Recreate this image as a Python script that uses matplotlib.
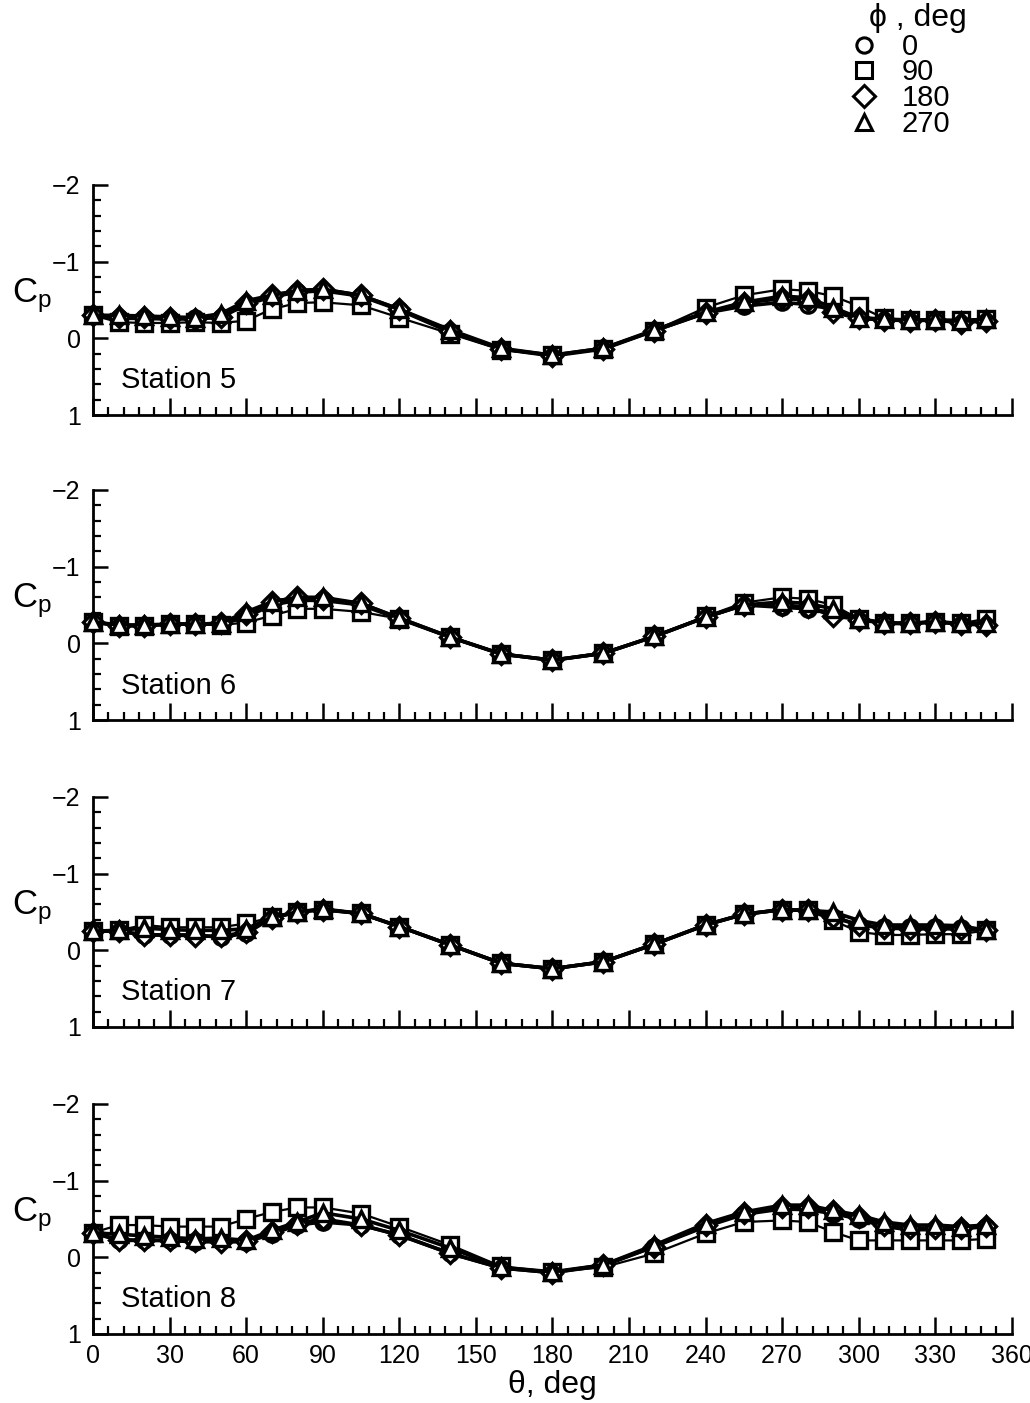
import matplotlib
matplotlib.use('Agg')
import matplotlib.pyplot as plt
from matplotlib.lines import Line2D
import numpy as np

plt.rcParams['font.family'] = ['Liberation Sans', 'DejaVu Sans']

# circumferential angle, deg
theta = [0, 10, 20, 30, 40, 50, 60, 70, 80, 90, 105, 120, 140, 160, 180,
         200, 220, 240, 255, 270, 280, 290, 300, 310, 320, 330, 340, 350]

phi_labels = ['0', '90', '180', '270']
stations = ['Station 5', 'Station 6', 'Station 7', 'Station 8']

# Station 5
st5_phi0 = [-0.30, -0.26, -0.26, -0.25, -0.26, -0.27, -0.44, -0.54, -0.60, -0.62, -0.55, -0.37, -0.08, 0.14, 0.22,
            0.13, -0.10, -0.33, -0.42, -0.47, -0.44, -0.38, -0.27, -0.24, -0.24, -0.23, -0.23, -0.24]
st5_phi90 = [-0.30, -0.21, -0.20, -0.20, -0.21, -0.20, -0.23, -0.38, -0.46, -0.47, -0.43, -0.27, -0.06, 0.15, 0.22,
             0.14, -0.10, -0.40, -0.56, -0.64, -0.62, -0.55, -0.42, -0.26, -0.24, -0.24, -0.24, -0.25]
st5_phi180 = [-0.30, -0.28, -0.28, -0.26, -0.25, -0.28, -0.46, -0.56, -0.62, -0.64, -0.56, -0.38, -0.09, 0.14, 0.23,
              0.14, -0.10, -0.33, -0.46, -0.52, -0.50, -0.34, -0.26, -0.24, -0.23, -0.24, -0.20, -0.23]
st5_phi270 = [-0.30, -0.30, -0.29, -0.28, -0.27, -0.32, -0.49, -0.56, -0.62, -0.64, -0.56, -0.38, -0.11, 0.13, 0.22,
              0.13, -0.11, -0.34, -0.47, -0.55, -0.53, -0.40, -0.27, -0.25, -0.24, -0.24, -0.23, -0.25]

# Station 6
st6_phi0 = [-0.28, -0.23, -0.23, -0.25, -0.25, -0.25, -0.34, -0.50, -0.56, -0.56, -0.50, -0.32, -0.08, 0.14, 0.22,
            0.13, -0.09, -0.34, -0.50, -0.47, -0.45, -0.40, -0.32, -0.26, -0.26, -0.28, -0.26, -0.26]
st6_phi90 = [-0.28, -0.23, -0.23, -0.25, -0.25, -0.24, -0.27, -0.36, -0.45, -0.45, -0.41, -0.32, -0.08, 0.14, 0.22,
             0.13, -0.09, -0.35, -0.53, -0.60, -0.58, -0.50, -0.32, -0.26, -0.26, -0.28, -0.26, -0.32]
st6_phi180 = [-0.28, -0.23, -0.23, -0.25, -0.25, -0.26, -0.38, -0.54, -0.60, -0.58, -0.52, -0.33, -0.08, 0.14, 0.22,
              0.13, -0.09, -0.34, -0.50, -0.50, -0.47, -0.36, -0.31, -0.26, -0.26, -0.28, -0.25, -0.24]
st6_phi270 = [-0.28, -0.24, -0.24, -0.25, -0.25, -0.26, -0.41, -0.54, -0.60, -0.60, -0.52, -0.33, -0.08, 0.14, 0.22,
              0.13, -0.09, -0.34, -0.50, -0.54, -0.52, -0.45, -0.32, -0.27, -0.26, -0.28, -0.26, -0.26]

# Station 7
st7_phi0 = [-0.25, -0.25, -0.20, -0.20, -0.20, -0.17, -0.22, -0.42, -0.50, -0.53, -0.48, -0.31, -0.07, 0.17, 0.24,
            0.15, -0.08, -0.33, -0.47, -0.53, -0.52, -0.43, -0.33, -0.30, -0.30, -0.30, -0.29, -0.26]
st7_phi90 = [-0.25, -0.26, -0.33, -0.30, -0.30, -0.30, -0.35, -0.43, -0.50, -0.53, -0.48, -0.31, -0.07, 0.17, 0.24,
             0.15, -0.08, -0.33, -0.47, -0.53, -0.52, -0.39, -0.24, -0.20, -0.20, -0.21, -0.21, -0.26]
st7_phi180 = [-0.25, -0.25, -0.20, -0.20, -0.19, -0.18, -0.24, -0.42, -0.50, -0.53, -0.48, -0.31, -0.07, 0.17, 0.24,
              0.15, -0.08, -0.33, -0.47, -0.53, -0.52, -0.44, -0.33, -0.29, -0.28, -0.28, -0.28, -0.26]
st7_phi270 = [-0.25, -0.26, -0.29, -0.27, -0.26, -0.26, -0.28, -0.43, -0.50, -0.54, -0.48, -0.31, -0.07, 0.17, 0.24,
              0.15, -0.08, -0.33, -0.47, -0.53, -0.52, -0.50, -0.39, -0.33, -0.33, -0.33, -0.32, -0.26]

# Station 8
st8_phi0 = [-0.32, -0.22, -0.22, -0.22, -0.20, -0.21, -0.20, -0.30, -0.42, -0.46, -0.42, -0.29, -0.05, 0.14, 0.20,
            0.11, -0.14, -0.40, -0.56, -0.63, -0.62, -0.57, -0.50, -0.40, -0.36, -0.36, -0.37, -0.40]
st8_phi90 = [-0.32, -0.42, -0.42, -0.40, -0.40, -0.40, -0.50, -0.59, -0.65, -0.65, -0.57, -0.40, -0.16, 0.12, 0.19,
             0.13, -0.05, -0.31, -0.46, -0.48, -0.46, -0.33, -0.22, -0.22, -0.22, -0.22, -0.22, -0.24]
st8_phi180 = [-0.32, -0.23, -0.22, -0.22, -0.21, -0.20, -0.21, -0.33, -0.44, -0.50, -0.42, -0.29, -0.05, 0.14, 0.20,
              0.10, -0.14, -0.42, -0.58, -0.65, -0.66, -0.60, -0.52, -0.42, -0.38, -0.38, -0.38, -0.41]
st8_phi270 = [-0.32, -0.30, -0.28, -0.26, -0.24, -0.25, -0.22, -0.35, -0.46, -0.58, -0.50, -0.35, -0.12, 0.13, 0.19,
              0.10, -0.16, -0.44, -0.59, -0.68, -0.68, -0.61, -0.55, -0.46, -0.42, -0.42, -0.40, -0.42]

data = [
    [st5_phi0, st5_phi90, st5_phi180, st5_phi270],
    [st6_phi0, st6_phi90, st6_phi180, st6_phi270],
    [st7_phi0, st7_phi90, st7_phi180, st7_phi270],
    [st8_phi0, st8_phi90, st8_phi180, st8_phi270],
]

markers = ['o', 's', 'D', '^']
msizes = [11, 11, 10, 11]
line_w = [2.6, 1.6, 2.6, 2.6]

fig = plt.figure(figsize=(10.30, 14.03), dpi=100)

bottoms = [0.7042, 0.4868, 0.2680, 0.0492]
left, width, height = 0.0903, 0.892, 0.164

for p in range(4):
    ax = fig.add_axes([left, bottoms[p], width, height])
    for k in range(4):
        ax.plot(theta, data[p][k], color='black', lw=line_w[k], marker=markers[k],
                ms=msizes[k], mfc='white', mec='black', mew=2.4, zorder=3 + k,
                clip_on=False)

    ax.set_xlim(0, 360)
    ax.set_ylim(1, -2)
    ax.spines['top'].set_visible(False)
    ax.spines['right'].set_visible(False)
    ax.spines['left'].set_linewidth(2)
    ax.spines['bottom'].set_linewidth(2)

    ax.set_xticks(np.arange(0, 361, 30))
    ax.set_xticks(np.arange(0, 361, 6), minor=True)
    ax.set_yticks([-2, -1, 0, 1])
    ax.set_yticks(np.arange(-2, 1.01, 0.2), minor=True)
    ax.tick_params(which='major', direction='in', length=12, width=1.8, labelsize=18, pad=7)
    ax.tick_params(which='minor', direction='in', length=6, width=1.6)
    ax.tick_params(axis='y', which='major', length=11, pad=9)
    ax.set_yticklabels(['\u22122', '\u22121', '0', '1'])

    if p < 3:
        ax.set_xticklabels([])
    else:
        ax.set_xlabel('\u03b8, deg', fontsize=23, labelpad=2)

    ax.text(-0.066, 0.52, r'$\mathregular{C_p}$', transform=ax.transAxes,
            fontsize=25, ha='center', va='center')
    ax.text(0.030, 0.15, stations[p], transform=ax.transAxes,
            fontsize=21, ha='left', va='center')

# legend at top right
handles = [Line2D([], [], ls='none', marker=m, ms=11, mfc='white', mec='black', mew=2.2)
           for m in markers]
fig.legend(handles, phi_labels, loc='upper left', bbox_to_anchor=(0.813, 0.987),
           frameon=False, fontsize=21, handlelength=0.8, handletextpad=0.9,
           labelspacing=-0.08, borderpad=0)
fig.text(0.844, 0.987, '\u03d5 , deg', fontsize=23, ha='left', va='center')

fig.savefig('out.png', dpi=100)
